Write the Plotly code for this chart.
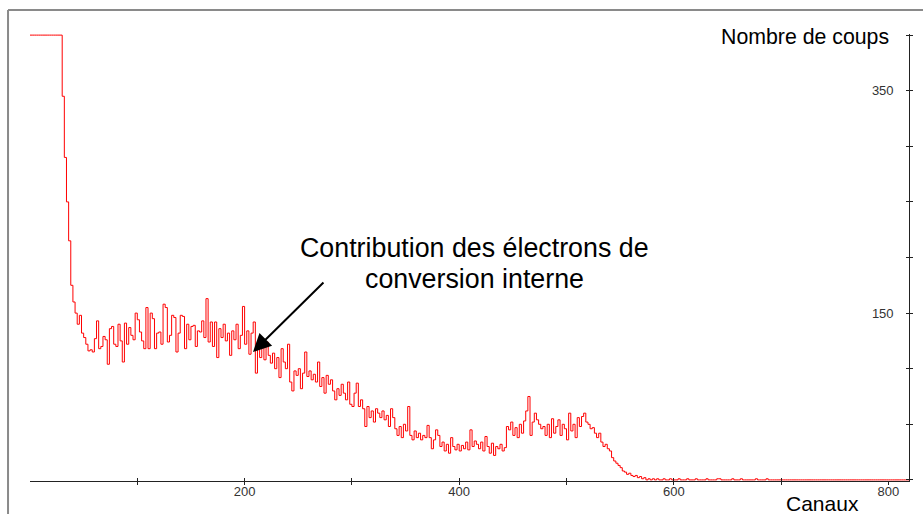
import plotly.graph_objects as go

# ---- data (counts per 2-channel bin) ----
bin_width = 2
counts = (
    [400] * 15 +
    [345, 290, 250, 215, 175, 160, 150, 140, 148, 132,
     128, 122, 116, 117, 115, 127, 143, 118, 120, 129,
     126, 104, 136, 138, 122, 120, 140, 125, 106, 141,
     122, 137, 130, 126, 150, 144, 133, 125, 118, 155,
     118, 150, 145, 118, 132, 133, 122, 158, 155, 124,
     130, 148, 146, 115, 132, 148, 147, 118, 140, 126,
     138, 139, 120, 134, 133, 143, 128, 163, 124, 142,
     120, 142, 110, 136, 128, 140, 125, 132, 112, 134,
     126, 140, 118, 130, 156, 122, 134, 113, 132, 142,
     96, 118, 110, 120, 108, 124, 112, 105, 114, 100,
     110, 92, 118, 106, 100, 122, 88, 80, 98, 94,
     100, 82, 96, 115, 93, 98, 90, 95, 88, 106,
     84, 92, 78, 94, 86, 90, 80, 72, 82, 76,
     86, 78, 72, 88, 68, 66, 78, 87, 66, 72,
     64, 48, 66, 56, 62, 52, 64, 60, 56, 62,
     54, 58, 48, 64, 56, 46, 40, 48, 38, 50,
     44, 66, 40, 36, 44, 38, 42, 36, 40, 38,
     49, 38, 28, 36, 45, 40, 30, 34, 26, 32,
     24, 38, 30, 27, 32, 26, 31, 28, 34, 27,
     45, 30, 35, 32, 28, 34, 26, 39, 30, 24,
     33, 22, 30, 28, 32, 26, 29, 48, 45, 52,
     40, 47, 38, 50, 42, 53, 62, 75, 40, 52,
     60, 54, 50, 46, 48, 40, 50, 38, 55, 42,
     48, 54, 40, 50, 46, 36, 60, 44, 50, 38,
     56, 48, 57, 60, 52, 50, 46, 47, 42, 38,
     42, 34, 30, 32, 28, 26, 20, 17, 15, 13,
     11, 8, 7, 5, 6, 4, 3, 4, 2, 3,
     1, 2, 0, 1, 0, 1, 0, 1, 0, 0,
     1, 0, 0, 1, 0, 0, 0, 1, 0, 0,
     0, 1, 0, 0, 0, 1, 0, 0, 0, 0,
     1, 0, 0, 0, 0, 1, 1, 0, 0, 0,
     0, 0, 1, 0, 0, 0, 1, 0, 0, 0,
     0, 0, 0, 1, 0, 0, 0, 0, 1, 0,
     0, 0, 0, 0, 0, 0, 0, 0, 0, 0,
     0, 0, 0, 0, 0, 0, 0, 0, 0, 0,
     0, 0, 0, 0, 0, 0, 0, 0, 0, 0,
     0, 0, 0, 0, 0, 0, 0, 0, 0, 0,
     0, 0, 0, 0] +
    [0] * 22
)
channels = [i * bin_width for i in range(len(counts))]

x_tick_vals = [100, 200, 300, 400, 500, 600, 700, 800]
x_tick_text = ["", "200", "", "400", "", "600", "", "800"]
y_tick_vals = [0, 50, 100, 150, 200, 250, 300, 350, 400]
y_tick_text = ["", "", "", "150", "", "", "", "350", ""]

x_title = "Canaux"
y_title = "Nombre de coups"
note_line1 = "Contribution des électrons de"
note_line2 = "conversion interne"

FONT = "Liberation Sans, Arial, sans-serif"
AX = "#222222"
X_RANGE = [0, 819.2]
Y_RANGE = [-1, 401]

fig = go.Figure()
fig.add_trace(go.Scatter(
    x=channels, y=counts, mode="lines", line=dict(color="#ff0000", width=1, shape="hv"),
    hoverinfo="skip", showlegend=False))
# helper trace for the overlay axes (crossing ticks)
fig.add_trace(go.Scatter(x=[None], y=[None], xaxis="x2", yaxis="y2",
                         mode="lines", showlegend=False, hoverinfo="skip"))

tickfont = dict(size=13, color="#333333", family=FONT)

fig.update_layout(
    width=923, height=514,
    margin=dict(l=30, r=14, t=34, b=33, pad=0),
    paper_bgcolor="white", plot_bgcolor="white",
    font=dict(family=FONT, color="black"),
    xaxis=dict(range=X_RANGE, tickvals=x_tick_vals, ticktext=x_tick_text,
               ticks="outside", ticklen=3, tickcolor=AX, tickwidth=1,
               ticklabelstandoff=-5,
               showline=True, linecolor=AX, linewidth=1,
               showgrid=False, zeroline=False, tickfont=tickfont),
    yaxis=dict(range=Y_RANGE, side="right", tickvals=y_tick_vals,
               ticks="outside", ticklen=3, tickcolor=AX, tickwidth=1,
               showticklabels=False,
               showline=True, linecolor=AX, linewidth=1,
               showgrid=False, zeroline=False),
    xaxis2=dict(range=X_RANGE, overlaying="x", anchor="y2", side="bottom",
                tickvals=x_tick_vals, ticks="inside", ticklen=3, tickcolor=AX,
                showticklabels=False, showline=False, showgrid=False, zeroline=False),
    yaxis2=dict(range=Y_RANGE, overlaying="y", anchor="x2", side="right",
                tickvals=y_tick_vals, ticktext=y_tick_text,
                ticks="inside", ticklen=3, tickcolor=AX, tickwidth=1,
                ticklabelposition="inside", ticklabelstandoff=12,
                showline=False, showgrid=False, zeroline=False, tickfont=tickfont),
    shapes=[
        dict(type="line", xref="paper", yref="paper", x0=-0.025, x1=1.02, y0=1.0537, y1=1.0537,
             line=dict(color="#8a8a8a", width=2)),
        dict(type="line", xref="paper", yref="paper", x0=-0.025, x1=-0.025, y0=-0.08, y1=1.0537,
             line=dict(color="#8a8a8a", width=2)),
    ],
    annotations=[
        dict(x=207.8, y=115, xref="x", yref="y", text=" ", font=dict(size=1),
             showarrow=True, ax=72, ay=-71, arrowhead=2, arrowsize=1.8,
             arrowwidth=2, arrowcolor="black", standoff=0),
        dict(x=414, y=208.5, xref="x", yref="y", text=note_line1, showarrow=False,
             xanchor="center", yanchor="middle", font=dict(size=26.8, family=FONT, color="black")),
        dict(x=414, y=180.7, xref="x", yref="y", text=note_line2, showarrow=False,
             xanchor="center", yanchor="middle", font=dict(size=26.8, family=FONT, color="black")),
        dict(x=802.4, y=398, xref="x", yref="y", text=y_title, showarrow=False,
             xanchor="right", yanchor="middle", font=dict(size=21.3, family=FONT, color="black")),
        dict(x=738.6, y=-0.051, xref="x", yref="paper", text=x_title, showarrow=False,
             xanchor="center", yanchor="middle", font=dict(size=21, family=FONT, color="black")),
    ],
)

fig.write_html("out.html", config={"displayModeBar": False},
               post_script="document.body.style.margin='0';document.body.style.overflow='hidden';")
